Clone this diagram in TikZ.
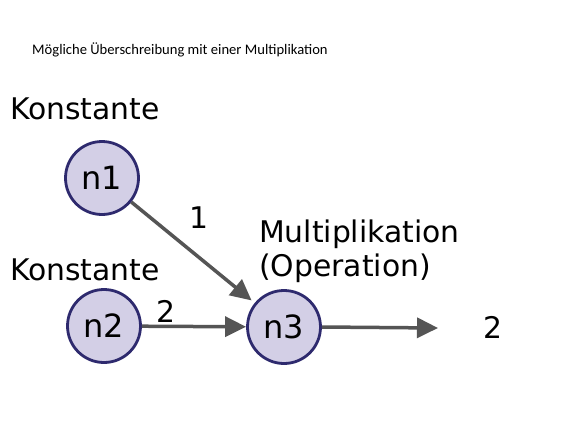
\documentclass[tikz,border=0pt]{standalone}
\usepackage{fontspec}
\setmainfont{DejaVu Sans}
\newfontfamily\capfont{Carlito}
\usetikzlibrary{arrows.meta}
\definecolor{nodefill}{HTML}{D3CFE6}
\definecolor{nodeline}{HTML}{2E2A6E}
\definecolor{arrowgray}{HTML}{555555}
\tikzset{
  vnode/.style={circle, draw=nodeline, fill=nodefill, line width=2.8pt, minimum size=73pt, inner sep=0pt, font=\fontsize{32}{34}\selectfont},
  lbl/.style={font=\fontsize{29.8}{32}\selectfont, inner sep=0pt},
  conn/.style={draw=arrowgray, line width=3.5pt, -{Triangle[length=21pt,width=20pt]}},
}
\begin{document}
\begin{tikzpicture}[x=1pt,y=-1pt]
\useasboundingbox[fill=white] (0,0) rectangle (566,421);
\node[anchor=west, inner sep=0pt, font=\capfont\fontsize{14.6}{17}\selectfont] (cap) at (32,50) {Mögliche Überschreibung mit einer Multiplikation};
\node[lbl, anchor=west] (k1) at (10,109) {Konstante};
\node[lbl, anchor=west] (k2) at (10,270) {Konstante};
\node[lbl, anchor=west] (m1) at (259,234) {Multiplikation};
\node[lbl, anchor=west] (m2) at (259,268) {(Operation)};
\node[vnode] (n1) at (102,178) {n1};
\node[vnode] (n2) at (104,326) {n2};
\node[vnode] (n3) at (284,327) {n3};
\coordinate (o) at (438,328);
\node[lbl] (out) at (493,327) {2};
\draw[conn, shorten >=4pt] (n1) -- (n3);
\draw[conn] (n2) -- (n3);
\draw[conn] (n3.east) -- (o);
\node[lbl] (l1) at (199,218) {1};
\node[lbl] (l2) at (166,311) {2};
\end{tikzpicture}
\end{document}
